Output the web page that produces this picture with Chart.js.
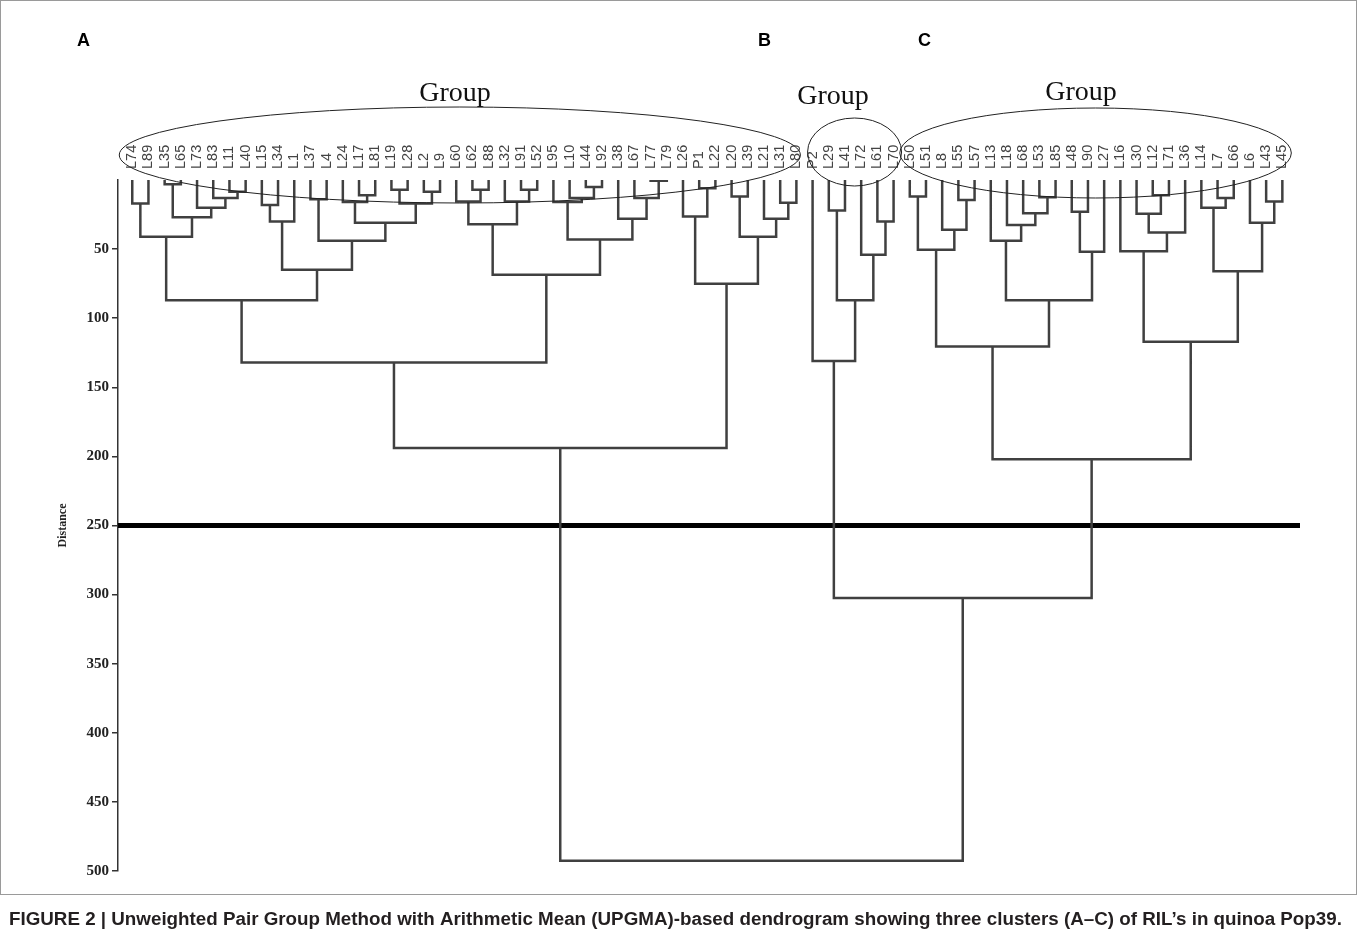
<!DOCTYPE html>
<html>
<head>
<meta charset="utf-8">
<title>UPGMA dendrogram</title>
<script src="https://cdn.jsdelivr.net/npm/chart.js@4.4.1/dist/chart.umd.min.js"></script>
<style>
  html, body { margin: 0; padding: 0; background: #fff; }
  canvas { display: block; }
</style>
</head>
<body>
<canvas id="dendro-chart" width="1358" height="945"></canvas>
<script>
// --- Data ---
// leaves in plotting order (left to right)
const leafLabels = [
  'L74', 'L89', 'L35', 'L65', 'L73', 'L83', 'L11', 'L40', 'L15', 'L34', 'L1', 'L37', 'L4', 'L24',
  'L17', 'L81', 'L19', 'L28', 'L2', 'L9', 'L60', 'L62', 'L88', 'L32', 'L91', 'L52', 'L95', 'L10',
  'L44', 'L92', 'L38', 'L67', 'L77', 'L79', 'L26', 'P1', 'L22', 'L20', 'L39', 'L21', 'L31', 'L80',
  'P2', 'L29', 'L41', 'L72', 'L61', 'L70',
  'L50', 'L51', 'L8', 'L55', 'L57', 'L13', 'L18', 'L68', 'L53', 'L85', 'L48', 'L90', 'L27', 'L16',
  'L30', 'L12', 'L71', 'L36', 'L14', 'L7', 'L66', 'L6', 'L43', 'L45'
];

// panel letters and first/last leaf of each group
const groupLetters = ['A', 'B', 'C'];
const groupFirst = [0, 42, 48];
const groupLast = [41, 47, 71];

// UPGMA merges: [left, right, distance]
// a string is a leaf, a number points to an earlier merge
const merges = [
  ['L74', 'L89', 17],   // 0
  ['L35', 'L65', 3],    // 1
  ['L11', 'L40', 8.5],  // 2
  ['L83', 2, 13],       // 3
  ['L73', 3, 20],       // 4
  [1, 4, 27],           // 5
  [0, 5, 41],           // 6
  ['L15', 'L34', 18],   // 7
  [7, 'L1', 30],        // 8
  ['L37', 'L4', 14],    // 9
  ['L17', 'L81', 11],   // 10
  ['L24', 10, 16],      // 11
  ['L19', 'L28', 7],    // 12
  ['L2', 'L9', 8.5],    // 13
  [12, 13, 17],         // 14
  [11, 14, 31],         // 15
  [9, 15, 44],          // 16
  [8, 16, 65],          // 17
  [6, 17, 87],          // 18
  ['L62', 'L88', 7],    // 19
  ['L60', 19, 15.5],    // 20
  ['L91', 'L52', 7],    // 21
  ['L32', 21, 15.5],    // 22
  [20, 22, 32],         // 23
  ['L44', 'L92', 5],    // 24
  ['L10', 24, 13],      // 25
  ['L95', 25, 16],      // 26
  ['L77', 'L79', 0.5],  // 27
  ['L67', 27, 13],      // 28
  ['L38', 28, 28],      // 29
  [26, 29, 43],         // 30
  [23, 30, 68.5],       // 31
  [18, 31, 132],        // 32
  ['P1', 'L22', 6],     // 33
  ['L26', 33, 26.5],    // 34
  ['L20', 'L39', 12],   // 35
  ['L31', 'L80', 16.5], // 36
  ['L21', 36, 28],      // 37
  [35, 37, 41],         // 38
  [34, 38, 75],         // 39
  [32, 39, 194],        // 40  group A
  ['L29', 'L41', 22],   // 41
  ['L61', 'L70', 30],   // 42
  ['L72', 42, 54],      // 43
  [41, 43, 87],         // 44
  ['P2', 44, 131],      // 45  group B
  ['L50', 'L51', 12],   // 46
  ['L55', 'L57', 14.5], // 47
  ['L8', 47, 36],       // 48
  [46, 48, 50.5],       // 49
  ['L53', 'L85', 12.5], // 50
  ['L68', 50, 24],      // 51
  ['L18', 51, 32.5],    // 52
  ['L13', 52, 44],      // 53
  ['L48', 'L90', 23],   // 54
  [54, 'L27', 52],      // 55
  [53, 55, 87],         // 56
  [49, 56, 120.5],      // 57
  ['L12', 'L71', 11],   // 58
  ['L30', 58, 24.5],    // 59
  [59, 'L36', 38],      // 60
  ['L16', 60, 51.5],    // 61
  ['L7', 'L66', 13],    // 62
  ['L14', 62, 20],      // 63
  ['L43', 'L45', 15.5], // 64
  ['L6', 64, 31],       // 65
  [63, 65, 66],         // 66
  [61, 66, 117],        // 67
  [57, 67, 202],        // 68  group C
  [45, 68, 302.5],      // 69
  [40, 69, 492.5]       // 70  root
];

const cutDistance = 250;
const distanceMax = 500;
const distanceStep = 50;

// --- Build the U-shaped links ---
const nodes = [];
const treePoints = [];

function nodeOf(ref) {
  if (typeof ref === 'string') return { x: leafLabels.indexOf(ref), y: 0 };
  return nodes[ref];
}

merges.forEach(([a, b, h]) => {
  const l = nodeOf(a);
  const r = nodeOf(b);
  treePoints.push({ x: l.x, y: l.y }, { x: l.x, y: h }, { x: r.x, y: h }, { x: r.x, y: r.y });
  treePoints.push({ x: null, y: null }); // break the line
  nodes.push({ x: (l.x + r.x) / 2, y: h });
});

// leaf axis range, a bit of room on both sides
const xMin = -0.88;
const xMax = leafLabels.length + 0.09;

// --- Extra drawing: leaf labels, group ellipses, letters, caption ---
const serif = '"Liberation Serif", "Times New Roman", serif';
const sans = '"Liberation Sans", Arial, sans-serif';

const ellipseStyle = [
  { padL: 13, padR: 4, cy: 155, ry: 48, textX: 455, textY: 101, letterX: 77 },
  { padL: 5, padR: 8, cy: 152, ry: 34, textX: 833, textY: 104, letterX: 758 },
  { padL: 10, padR: 9, cy: 153, ry: 45, textX: 1081, textY: 100, letterX: 918 }
];

const decorPlugin = {
  id: 'decor',
  afterDraw(chart) {
    const { ctx, scales: { x } } = chart;
    ctx.save();

    // frame
    ctx.strokeStyle = '#9a9a9a';
    ctx.lineWidth = 1;
    ctx.strokeRect(0.5, 0.5, 1356, 894);

    // leaf labels (rotated, reading upwards)
    ctx.font = '14.5px ' + sans;
    ctx.fillStyle = '#444';
    ctx.textAlign = 'left';
    ctx.textBaseline = 'middle';
    leafLabels.forEach((lab, i) => {
      ctx.save();
      ctx.translate(x.getPixelForValue(i), 169);
      ctx.rotate(-Math.PI / 2);
      ctx.fillText(lab, 0, 0);
      ctx.restore();
    });

    // group ellipses + titles + letters
    groupLetters.forEach((letter, g) => {
      const st = ellipseStyle[g];
      const left = x.getPixelForValue(groupFirst[g]) - st.padL;
      const right = x.getPixelForValue(groupLast[g]) + st.padR;
      ctx.beginPath();
      ctx.ellipse((left + right) / 2, st.cy, (right - left) / 2, st.ry, 0, 0, Math.PI * 2);
      ctx.strokeStyle = '#222';
      ctx.lineWidth = 1;
      ctx.stroke();

      ctx.fillStyle = '#111';
      ctx.font = '28px ' + serif;
      ctx.textAlign = 'center';
      ctx.textBaseline = 'alphabetic';
      ctx.fillText('Group', st.textX, st.textY);

      ctx.fillStyle = '#000';
      ctx.font = 'bold 18px ' + sans;
      ctx.textAlign = 'left';
      ctx.fillText(letter, st.letterX, 46);
    });

    // caption
    ctx.fillStyle = '#231f20';
    ctx.font = 'bold 18.8px ' + sans;
    ctx.textAlign = 'left';
    ctx.fillText('FIGURE 2 | Unweighted Pair Group Method with Arithmetic Mean (UPGMA)-based dendrogram showing three clusters (A\u2013C) of RIL\u2019s in quinoa Pop39.', 9, 925);

    ctx.restore();
  }
};

// --- Chart ---
const ctx = document.getElementById('dendro-chart').getContext('2d');
new Chart(ctx, {
  type: 'scatter',
  data: {
    datasets: [
      {
        label: 'tree',
        data: treePoints,
        showLine: true,
        spanGaps: false,
        borderColor: '#404040',
        borderWidth: 2.5,
        borderJoinStyle: 'miter',
        pointRadius: 0
      },
      {
        label: 'cut',
        data: [{ x: xMin, y: cutDistance }, { x: xMax, y: cutDistance }],
        showLine: true,
        borderColor: '#000',
        borderWidth: 5,
        pointRadius: 0
      }
    ]
  },
  options: {
    responsive: false,
    animation: false,
    layout: { padding: { left: 0, right: 58, top: 180, bottom: 74 } },
    plugins: { legend: { display: false }, tooltip: { enabled: false } },
    scales: {
      x: { type: 'linear', display: false, min: xMin, max: xMax },
      y: {
        type: 'linear',
        reverse: true,
        min: 0,
        max: distanceMax,
        afterFit: s => { s.width = 118; },
        border: { display: true, color: '#333', width: 1.5 },
        grid: {
          drawOnChartArea: false,
          drawTicks: true,
          tickLength: 6,
          lineWidth: 1.5,
          color: c => (c.tick && c.tick.value === 0 ? 'rgba(0,0,0,0)' : '#333')
        },
        ticks: {
          stepSize: distanceStep,
          padding: 3,
          color: '#222',
          font: { family: serif, size: 15, weight: 'bold' },
          callback: v => (v === 0 ? '' : v)
        },
        title: {
          display: true,
          text: 'Distance',
          color: '#222',
          font: { family: serif, size: 12, weight: 'bold' },
          padding: { top: 56, bottom: 0 }
        }
      }
    }
  },
  plugins: [decorPlugin]
});
</script>
</body>
</html>
